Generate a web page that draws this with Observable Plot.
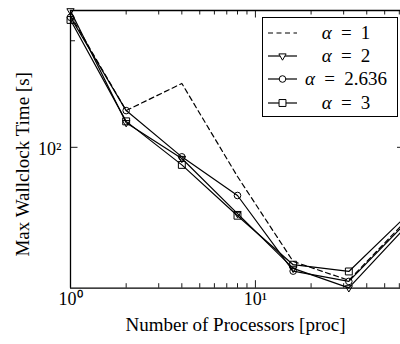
<!DOCTYPE html>
<html><head><meta charset="utf-8">
<script src="https://cdn.jsdelivr.net/npm/d3@7"></script>
<script src="https://cdn.jsdelivr.net/npm/@observablehq/plot@0.6"></script>
<style>
html,body{margin:0;padding:0;background:#fff;overflow:hidden;}
#wrap{position:relative;width:400px;height:344px;font-family:"Liberation Serif",serif;}
#legend{position:absolute;left:262px;top:17px;width:136px;height:100px;box-sizing:border-box;border:1.2px solid #000;background:#fff;}
.row{position:absolute;left:0;height:20px;width:134px;}
.row svg{position:absolute;left:5px;top:0;}
.row span{position:absolute;left:34px;width:98px;text-align:center;font-family:"Liberation Serif",serif;font-size:19px;line-height:20px;top:0;word-spacing:4.5px;white-space:nowrap;color:#000;}
</style></head><body><div id="wrap"></div>
<script>
// ---- data ----
const procs = [1, 2, 4, 8, 16, 32, 64];
const alphaLabels = ["1", "2", "2.636", "3"];
const timeAlpha1    = [236, 127, 151.5, 82.7, 47.6, 42.1, 61.4];
const timeAlpha2    = [243, 117.4, 93, 65, 45.5, 40.1, 59.1];
const timeAlpha2636 = [233, 127, 94, 73.1, 44.7, 41.8, 60.6];
const timeAlpha3    = [229, 118.4, 89.2, 64.1, 46.6, 44.6, 63.3];
const xDomain = [1, 64];
const yDomain = [40, 243.5];
const xMajor = [1, 10];
const xMajorLabels = ["10\u2070", "10\u00b9"];
const xMinor = [2, 3, 4, 5, 6, 7, 8, 9, 20, 30, 40, 50, 60];
const yMajor = [100];
const yMajorLabels = ["10\u00b2"];
const yMinor = [200];

// ---- layout ----
const W = 400, Hh = 344, mL = 70, mT = 10, mB = 56.3;
const frameH = Hh - mT - mB, frameW = W - mL;
const font = '"Liberation Serif", serif';

const triDown = {draw(ctx, size) {
  const r = Math.sqrt(size / Math.PI);
  ctx.moveTo(0, r);
  ctx.lineTo(r * 0.866, -r * 0.5);
  ctx.lineTo(-r * 0.866, -r * 0.5);
  ctx.closePath();
}};

const series = [
  {label: alphaLabels[0], vals: timeAlpha1, dash: "5,3.5", symbol: null},
  {label: alphaLabels[1], vals: timeAlpha2, dash: null, symbol: triDown, r: 4.2},
  {label: alphaLabels[2], vals: timeAlpha2636, dash: null, symbol: "circle", r: 3.3},
  {label: alphaLabels[3], vals: timeAlpha3, dash: null, symbol: "square", r: 3.9}
];
const tidy = s => procs.map((p, i) => ({p, t: s.vals[i]}));

const marks = [];
// ticks (inward, pgfplots style)
marks.push(Plot.tickX(xMinor, {x: d => d, insetTop: frameH - 4.5, stroke: "#000", strokeWidth: 0.9}));
marks.push(Plot.tickX(xMinor, {x: d => d, insetBottom: frameH - 4.5, stroke: "#000", strokeWidth: 0.9}));
marks.push(Plot.tickX(xMajor, {x: d => d, insetTop: frameH - 7.5, stroke: "#000", strokeWidth: 0.9}));
marks.push(Plot.tickX(xMajor, {x: d => d, insetBottom: frameH - 7.5, stroke: "#000", strokeWidth: 0.9}));
marks.push(Plot.tickY(yMinor, {y: d => d, insetRight: frameW - 5, stroke: "#000", strokeWidth: 0.9}));
marks.push(Plot.tickY(yMajor, {y: d => d, insetRight: frameW - 7.5, stroke: "#000", strokeWidth: 0.9}));
marks.push(Plot.tickY(yMajor, {y: d => d, insetLeft: frameW - 3, stroke: "#000", strokeWidth: 0.9}));

for (const s of series) {
  marks.push(Plot.line(tidy(s), {x: "p", y: "t", stroke: "#000", strokeWidth: 1.2, strokeDasharray: s.dash || undefined}));
  if (s.symbol) marks.push(Plot.dot(tidy(s), {x: "p", y: "t", symbol: s.symbol, r: s.r, stroke: "#000", fill: "none", strokeWidth: 1}));
}
// frame
marks.push(Plot.ruleY(yDomain, {y: d => d, stroke: "#000", strokeWidth: 1.3}));
marks.push(Plot.ruleX([xDomain[0], xDomain[1]], {x: d => d, stroke: "#000", strokeWidth: 1.3}));
// tick labels
marks.push(Plot.text(xMajor, {x: d => d, text: (d, i) => xMajorLabels[i], frameAnchor: "bottom", dy: 16.8, textAnchor: "middle", fontSize: 18, fill: "#000"}));
marks.push(Plot.text(yMajor, {y: d => d, text: (d, i) => yMajorLabels[i], frameAnchor: "left", dx: -9, dy: 1.5, textAnchor: "end", fontSize: 18, fill: "#000"}));
// axis labels
marks.push(Plot.text(["Number of Processors [proc]"], {text: d => d, frameAnchor: "bottom", dy: 42.3, textAnchor: "middle", fontSize: 19, fill: "#000"}));
marks.push(Plot.text(["Max Wallclock Time [s]"], {text: d => d, frameAnchor: "left", dx: -48, dy: 15, rotate: -90, textAnchor: "middle", fontSize: 19, fill: "#000"}));

const chart = Plot.plot({
  width: W, height: Hh,
  marginLeft: mL, marginRight: 0, marginTop: mT, marginBottom: mB,
  style: {fontFamily: font, background: "#fff", overflow: "hidden"},
  x: {type: "log", domain: xDomain, range: [mL, 404], axis: null},
  y: {type: "log", domain: yDomain, axis: null},
  marks
});
const wrap = document.getElementById("wrap");
wrap.appendChild(chart);

// legend
const legend = d3.select(wrap).append("div").attr("id", "legend");
series.forEach((s, i) => {
  const row = legend.append("div").attr("class", "row").style("top", (5 + 23.2 * i) + "px");
  const svg = row.append("svg").attr("width", 30).attr("height", 20);
  svg.append("line").attr("x1", 0).attr("x2", 29).attr("y1", 10).attr("y2", 10)
    .attr("stroke", "#000").attr("stroke-width", 1.2).attr("stroke-dasharray", s.dash || null);
  if (s.symbol) {
    const sym = typeof s.symbol === "string" ? (s.symbol === "circle" ? d3.symbolCircle : d3.symbolSquare) : s.symbol;
    svg.append("path").attr("transform", "translate(14.5,10)")
      .attr("d", d3.symbol(sym, Math.PI * s.r * s.r)())
      .attr("fill", "#fff").attr("stroke", "#000").attr("stroke-width", 1);
  }
  const span = row.append("span");
  span.append("i").text("\u03b1");
  span.node().appendChild(document.createTextNode(" = " + s.label));
});
</script></body></html>
